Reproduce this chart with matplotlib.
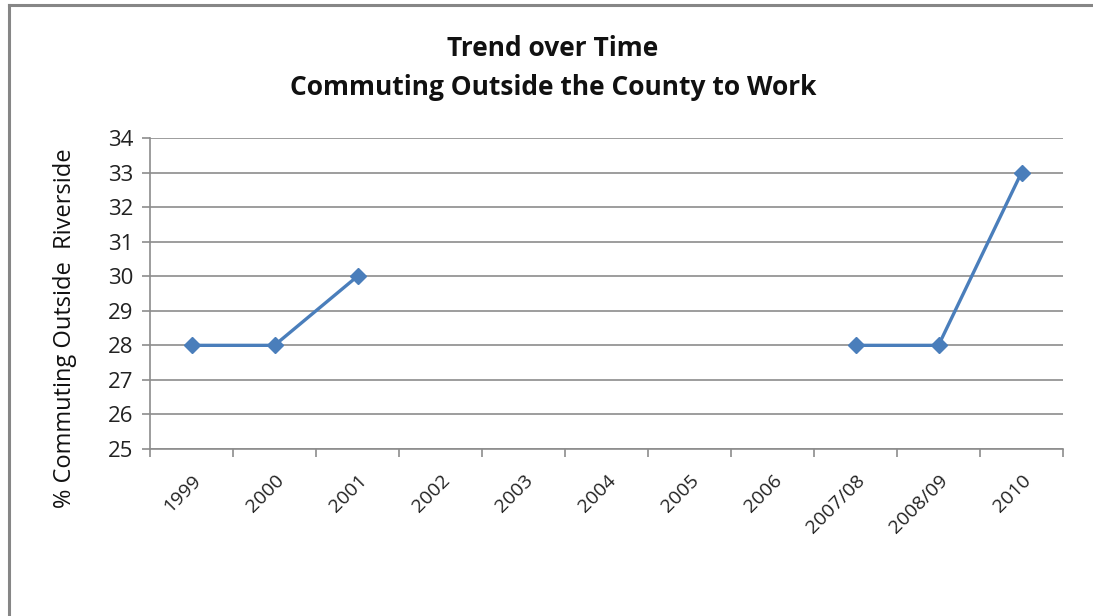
import numpy as np
import matplotlib
matplotlib.use("Agg")
import matplotlib.pyplot as plt
from matplotlib.lines import Line2D

categories = ["1999", "2000", "2001", "2002", "2003", "2004", "2005", "2006",
              "2007/08", "2008/09", "2010"]
values = [28, 28, 30, None, None, None, None, None, 28, 28, 33]
title = "Trend over Time\nCommuting Outside the County to Work"
ylabel = "% Commuting Outside  Riverside"

W, H = 1093, 616
fig = plt.figure(figsize=(W / 100, H / 100), dpi=100)
font = "Open Sans"

ax = fig.add_axes([150 / W, 1 - 449 / H, (1063 - 150) / W, (449 - 138) / H])

x = np.arange(len(categories))
y = np.array([np.nan if v is None else v for v in values], dtype=float)
ax.plot(x, y, color="#4a7ebb", lw=2.4, marker="D", ms=8, solid_capstyle="round")

ax.set_xlim(-0.5, len(categories) - 0.5)
ax.set_ylim(25, 34)
ax.set_yticks(range(25, 35))
ax.set_yticklabels([str(v) for v in range(25, 35)], fontsize=16, family=font, color="#222222")
ax.yaxis.grid(True, color="#8c8c8c", lw=1.2)
ax.set_axisbelow(True)

ax.set_xticks(x)
ax.set_xticklabels(categories, rotation=45, ha="right", va="top",
                   rotation_mode="anchor", fontsize=14, family=font, color="#222222")
ax.tick_params(axis="x", length=0, pad=16)
ax.set_xticks(np.arange(-0.5, len(categories)), minor=True)
ax.tick_params(axis="x", which="minor", length=6, color="#8c8c8c", width=1.2)
ax.tick_params(axis="y", length=6, color="#8c8c8c", width=1.2, pad=6)

for s in ["top", "right"]:
    ax.spines[s].set_visible(False)
for s in ["left", "bottom"]:
    ax.spines[s].set_color("#8c8c8c")
    ax.spines[s].set_linewidth(1.2)

fig.text(553 / W, 1 - 68 / H, title, ha="center", va="center", fontsize=19,
         fontweight="bold", family=font, linespacing=1.55, color="#111111")
fig.text(65 / W, 1 - 328 / H, ylabel, rotation=90, ha="center", va="center",
         fontsize=17, family=font, color="#111111")

fig.add_artist(Line2D([8.5 / W, 8.5 / W], [0, 1 - 5 / H], transform=fig.transFigure,
                      color="#868686", lw=2.2))
fig.add_artist(Line2D([8.5 / W, 1], [1 - 5 / H, 1 - 5 / H], transform=fig.transFigure,
                      color="#868686", lw=2.2))

fig.savefig("out.png", dpi=100)
